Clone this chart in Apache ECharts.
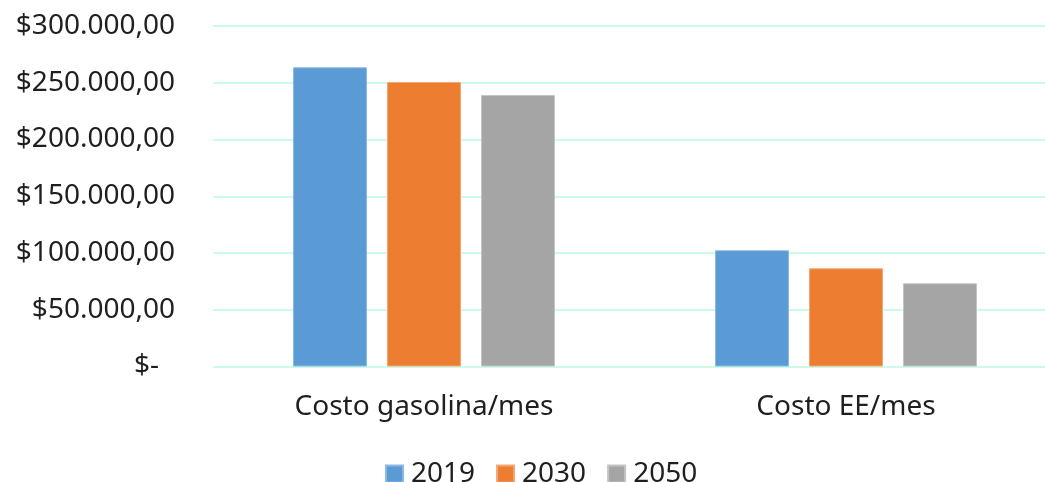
<!DOCTYPE html>
<html>
<head>
<meta charset="utf-8">
<title>Costo mensual</title>
<script src="https://cdn.jsdelivr.net/npm/echarts@6/dist/echarts.min.js"></script>
<style>
  html, body { margin: 0; padding: 0; background: #ffffff; overflow: hidden; }
  /* plot area continues past the right edge of the window */
  #chart { width: 1060px; height: 482px; }
</style>
</head>
<body>
<div id="chart"></div>
<script>
// Categories and series values
const categories = ['Costo gasolina/mes', 'Costo EE/mes'];
const seriesNames = ['2019', '2030', '2050'];
const values2019 = [263600, 102400];
const values2030 = [250700, 86500];
const values2050 = [239200, 73300];
const seriesColors = ['#5B9BD5', '#ED7D31', '#A5A5A5'];
const borderColors = ['#8DB8E3', '#F3A777', '#C4C4C4'];

// Accounting-style currency label: $300.000,00 and "$-" for zero
function formatMoney(v) {
  if (v === 0) return '$-\u2007';
  const s = Math.round(v).toString().replace(/\B(?=(\d{3})+(?!\d))/g, '.');
  return '$' + s + ',00';
}

const chart = echarts.init(document.getElementById('chart'));
const textColor = '#1f1f1f';
const fontFamily = '"Noto Sans", "Open Sans", sans-serif';
const allValues = [values2019, values2030, values2050];

chart.setOption({
  animation: false,
  backgroundColor: '#ffffff',
  textStyle: { fontFamily: fontFamily },
  grid: { left: 213, top: 26, width: 844, height: 340.5, containLabel: false },
  legend: {
    data: seriesNames,
    top: 455,
    left: 380,
    icon: 'rect',
    itemWidth: 17,
    itemHeight: 17,
    itemGap: 21,
    textStyle: { fontSize: 28, color: textColor, fontFamily: fontFamily, padding: [0, 0, 0, 3] }
  },
  xAxis: {
    type: 'category',
    data: categories,
    axisLine: { show: false },
    axisTick: { show: false },
    axisLabel: { fontSize: 28, color: textColor, margin: 27, fontFamily: fontFamily }
  },
  yAxis: {
    type: 'value',
    min: 0,
    max: 300000,
    interval: 50000,
    axisLine: { show: false },
    axisTick: { show: false },
    splitLine: { lineStyle: { color: '#CCFBEA', width: 2 } },
    axisLabel: {
      fontSize: 28, color: textColor, margin: 38, fontFamily: fontFamily,
      formatter: formatMoney
    }
  },
  series: seriesNames.map((name, i) => ({
    name: name,
    type: 'bar',
    data: allValues[i],
    barWidth: 74,
    barGap: '27%',
    itemStyle: { color: seriesColors[i], borderColor: borderColors[i], borderWidth: 1 }
  }))
});
</script>
</body>
</html>
